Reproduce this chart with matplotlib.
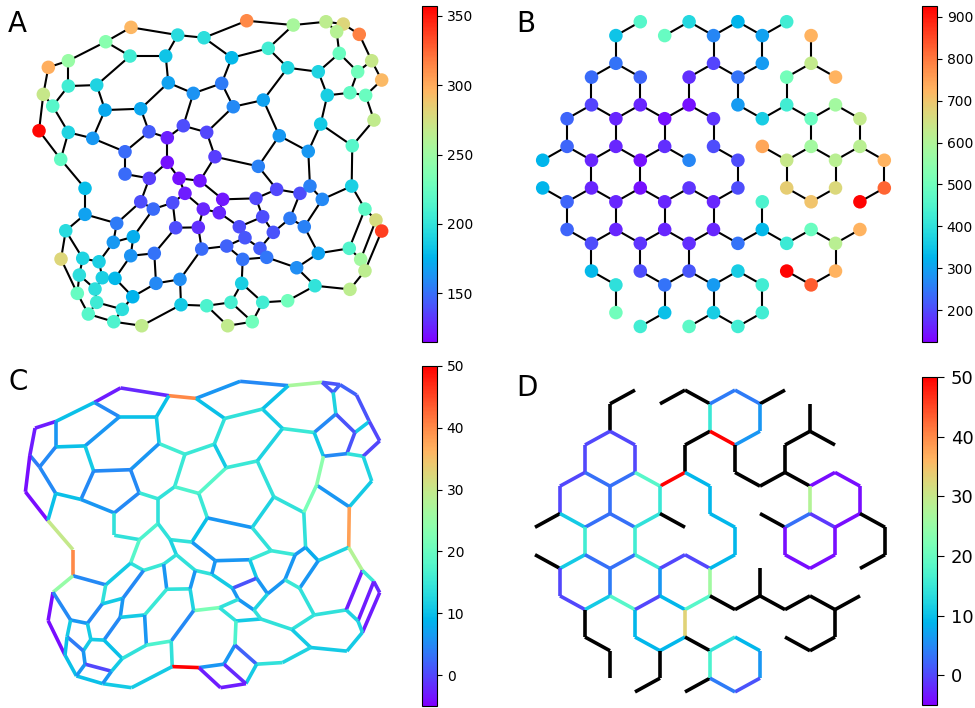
import numpy as np
import matplotlib
matplotlib.use("Agg")
import matplotlib.pyplot as plt
from matplotlib.collections import LineCollection
from matplotlib.colors import Normalize

# ---- panels A and C: irregular network (node layout, node values, edge values) ----
node_x = [131.0, 177.7, 204.0, 105.7, 130.0, 165.7, 68.3, 48.3, 68.3, 96.7,
          168.3, 193.3, 43.3, 52.7, 105.0, 140.7, 39.0, 68.3, 92.7, 149.0,
          167.3, 183.3, 206.7, 125.0, 60.7, 167.3, 215.0, 246.7, 293.3, 326.0,
          343.3, 336.7, 359.3, 231.7, 268.3, 339.3, 371.7, 287.7, 318.3, 357.7,
          381.7, 221.7, 327.3, 350.0, 365.7, 263.3, 233.3, 374.0, 320.7, 279.3,
          258.3, 308.3, 352.3, 125.0, 149.3, 179.0, 200.0, 185.0, 85.0, 140.7,
          172.7, 153.3, 203.3, 85.0, 116.7, 175.7, 198.3, 65.7, 133.3, 113.3,
          201.7, 61.0, 82.7, 99.0, 130.7, 154.3, 79.3, 102.3, 115.0, 156.0,
          180.0, 77.3, 95.0, 132.7, 96.7, 122.3, 181.0, 206.7, 88.3, 113.7,
          141.7, 222.7, 256.0, 276.7, 300.0, 310.0, 322.3, 351.7, 219.3, 262.7,
          290.0, 304.3, 239.3, 273.3, 245.0, 365.0, 376.0, 381.7, 226.7, 260.0,
          242.7, 266.7, 296.7, 318.3, 349.3, 360.7, 365.0, 350.0, 315.0, 241.7,
          287.7, 262.7, 231.0, 252.3, 227.7]
node_y = [27.3, 35.0, 37.7, 41.7, 56.0, 56.0, 60.7, 67.3, 86.0, 85.0,
          82.7, 93.3, 94.3, 106.0, 110.0, 108.7, 130.7, 132.3, 138.3, 131.7,
          137.7, 125.7, 132.3, 151.7, 159.3, 162.3, 156.7, 20.7, 25.0, 21.7,
          24.0, 31.7, 34.3, 57.7, 48.3, 53.3, 60.7, 67.7, 71.7, 71.7,
          80.0, 83.3, 95.3, 92.7, 95.3, 100.0, 106.7, 120.0, 124.0, 135.7,
          166.3, 151.3, 145.7, 174.0, 178.3, 178.3, 180.7, 193.3, 188.3, 201.7,
          202.7, 209.0, 209.0, 214.3, 223.3, 227.7, 227.3, 230.7, 236.7, 242.3,
          249.0, 259.0, 258.3, 261.7, 255.7, 253.3, 275.0, 277.7, 278.3, 283.3,
          279.3, 293.3, 289.0, 296.7, 302.3, 309.3, 304.7, 305.7, 314.0, 321.7,
          325.7, 199.3, 198.3, 189.3, 193.3, 186.0, 199.3, 186.0, 212.7, 216.7,
          218.3, 226.7, 226.7, 232.3, 237.7, 209.0, 220.0, 231.0, 246.0, 248.3,
          259.3, 257.3, 267.7, 253.3, 248.3, 259.3, 270.7, 289.3, 285.7, 283.3,
          300.7, 302.3, 302.3, 321.7, 325.7]
node_val = [295, 195, 197, 240, 207, 183, 248, 299, 207, 190,
            168, 163, 270, 217, 171, 170, 355, 190, 165, 144,
            125, 139, 137, 149, 222, 120, 134, 313, 255, 265,
            280, 262, 316, 178, 207, 226, 270, 192, 190, 229,
            294, 154, 188, 222, 226, 168, 159, 267, 185, 165,
            156, 165, 217, 149, 134, 120, 122, 124, 180, 139,
            139, 149, 127, 168, 154, 139, 130, 195, 173, 165,
            149, 280, 190, 188, 163, 151, 197, 188, 178, 159,
            161, 224, 197, 175, 205, 197, 185, 212, 217, 212,
            267, 122, 137, 137, 139, 156, 159, 188, 127, 139,
            154, 156, 139, 141, 142, 219, 277, 338, 146, 144,
            151, 152, 161, 168, 214, 253, 265, 265, 200, 188,
            229, 207, 209, 229, 267]
# (node i, node j, edge value shown in panel C)
edges = [(0, 1, -2), (0, 3, -3), (1, 2, 40), (1, 5, 10), (2, 27, 6), (2, 33, 10),
         (3, 4, 5), (3, 6, 10), (4, 5, 10), (4, 9, 6), (5, 10, 11), (6, 7, -3),
         (6, 8, 6), (7, 12, -3), (8, 9, 10), (8, 13, 5), (9, 14, 11), (10, 11, 16),
         (10, 15, 6), (11, 41, 15), (11, 21, 15), (12, 13, 4), (12, 16, -4),
         (13, 17, 5), (14, 15, 5), (14, 18, 5), (15, 19, 5), (16, 24, -4),
         (17, 18, 10), (17, 24, 10), (18, 23, 6), (19, 20, 15), (19, 23, 5),
         (20, 21, 14), (20, 25, 14), (21, 22, 17), (22, 26, 15), (22, 46, 18),
         (23, 53, 14), (24, 58, 30),
         (27, 28, 5), (28, 29, 27), (28, 34, 10), (29, 30, 1), (29, 31, 1),
         (30, 31, 2), (30, 32, 2), (31, 35, 12), (32, 36, 1), (36, 39, 11),
         (36, 40, 0), (35, 39, 1), (39, 43, 1), (35, 38, 5), (37, 38, 15),
         (38, 42, 11), (42, 43, 5), (43, 44, 14), (40, 44, 0), (44, 47, 12),
         (47, 52, 11), (48, 52, 6), (42, 48, 24), (52, 97, 38), (34, 37, 11),
         (33, 34, 14), (33, 41, 14), (41, 46, 11), (45, 46, 15), (37, 45, 12),
         (45, 49, 14), (26, 50, 6), (49, 50, 12), (49, 51, 14), (48, 51, 22),
         (51, 95, 14), (50, 93, 14), (26, 56, 10),
         (56, 91, 6), (91, 92, 6), (92, 93, 15), (92, 99, 11), (93, 94, 15),
         (94, 95, 6), (95, 96, 8), (96, 97, 12), (97, 105, 28), (96, 101, 6),
         (94, 100, 6), (100, 103, 6), (100, 101, 15), (101, 113, 14),
         (99, 102, 1), (99, 103, 6), (98, 102, 11), (62, 98, 14), (91, 98, 6),
         (102, 104, 6), (104, 109, 6), (103, 109, 12), (104, 108, 14),
         (70, 108, 22), (108, 110, 14), (110, 111, 11), (109, 111, 14),
         (111, 112, 14), (112, 113, 14), (112, 118, 11), (113, 114, 14),
         (105, 114, -3), (105, 106, 15), (106, 107, -2), (106, 115, -3),
         (107, 116, -3), (114, 115, 12), (115, 116, 12), (116, 117, 11),
         (117, 118, 11), (118, 120, 12), (110, 119, 17), (119, 122, 6),
         (119, 121, 2), (120, 121, 14), (121, 123, 11), (122, 123, -2),
         (87, 122, 6), (87, 124, -3), (123, 124, -3),
         (53, 54, 14), (25, 54, 17), (54, 59, 18), (25, 55, 14), (55, 56, 14),
         (55, 57, 12), (57, 60, 14), (57, 62, 14), (59, 61, 14), (59, 64, 11),
         (60, 61, 15), (60, 65, 6), (61, 68, 5), (58, 63, 40), (63, 64, 5),
         (63, 67, 25), (64, 69, 14), (68, 69, 11), (69, 73, 5), (68, 74, 6),
         (74, 75, 11), (74, 78, 5), (65, 75, 15), (75, 79, 6), (65, 66, 14),
         (62, 66, 6), (66, 70, 12), (70, 80, 5), (79, 80, 17), (80, 86, 14),
         (86, 87, 50), (86, 90, 11), (89, 90, 11), (88, 89, 10), (81, 88, 10),
         (71, 81, -4), (67, 71, -4), (67, 72, 5), (72, 73, 6), (72, 76, 11),
         (73, 77, 11), (77, 82, 11), (77, 78, 11), (76, 82, 4), (76, 81, 10),
         (82, 84, 6), (84, 85, 0), (84, 88, 6), (85, 89, 6), (83, 85, 11),
         (78, 83, 10), (79, 83, 14)]

# ---- panels B and D: honeycomb fragment (column, half-row, node value) ----
hex_col = [4, 6, 8, 10,
           3, 5, 7, 9, 11,
           3, 7, 9, 11,
           2, 4, 6, 8, 10, 12,
           2, 4, 6, 8, 10, 12,
           1, 3, 5, 7, 9, 11, 13,
           1, 3, 5, 7, 9, 11, 13,
           0, 2, 4, 6, 8, 10, 12, 14,
           0, 2, 4, 6, 8, 10, 12, 14,
           1, 3, 5, 7, 9, 11, 13,
           1, 3, 5, 7, 9, 11, 13,
           2, 4, 6, 8, 10, 12,
           2, 4, 6, 8, 10, 12,
           3, 5, 7, 9, 11,
           3, 5, 7, 9,
           4, 6, 8]
hex_row = [0] * 4 + [1] * 5 + [3] * 4 + [4] * 6 + [6] * 6 + [7] * 7 + [9] * 7 + \
          [10] * 8 + [12] * 8 + [13] * 7 + [15] * 7 + [16] * 6 + [18] * 6 + \
          [19] * 5 + [21] * 4 + [22] * 3
hex_val = [461, 381, 325, 429,
           349, 485, 268, 300, 726,
           244, 196, 292, 629,
           236, 228, 172, 244, 509, 726,
           196, 164, 140, 292, 429, 581,
           228, 164, 140, 180, 365, 493, 629,
           228, 164, 172, 204, 742, 581, 613,
           325, 164, 140, 268, 204, 637, 613, 726,
           325, 164, 140, 180, 204, 685, 669, 822,
           228, 164, 164, 164, 445, 701, 920,
           228, 164, 164, 164, 333, 493, 726,
           204, 180, 172, 244, 421, 613,
           333, 204, 212, 365, 920, 726,
           397, 244, 292, 429, 830,
           501, 341, 365, 429,
           429, 469, 429]
nan = float('nan')
# (col1, row1, col2, row2, edge value in panel D; nan = no value, drawn black)
hex_edges = [(3, 1, 4, 0, nan), (3, 1, 3, 3, nan), (5, 1, 6, 0, nan), (6, 0, 7, 1, nan),
             (7, 1, 7, 3, 15), (7, 3, 6, 4, nan), (7, 3, 8, 4, 50), (6, 4, 6, 6, nan),
             (6, 6, 5, 7, 50), (6, 6, 7, 7, 9), (7, 7, 7, 9, 9), (3, 3, 2, 4, 0),
             (3, 3, 4, 4, 0), (2, 4, 2, 6, 0), (4, 4, 4, 6, 0), (2, 6, 1, 7, 0),
             (2, 6, 3, 7, 3), (4, 6, 3, 7, 3), (4, 6, 5, 7, 18), (1, 7, 1, 9, 0),
             (3, 7, 3, 9, 3), (5, 7, 5, 9, 15), (1, 9, 0, 10, nan), (1, 9, 2, 10, 11),
             (3, 9, 2, 10, 3), (3, 9, 4, 10, 3), (5, 9, 4, 10, 14), (5, 9, 6, 10, nan),
             (2, 10, 2, 12, 16), (4, 10, 4, 12, 16), (0, 12, 1, 13, nan),
             (2, 12, 1, 13, 11), (2, 12, 3, 13, 3), (4, 12, 3, 13, 3),
             (4, 12, 5, 13, 16), (5, 13, 6, 12, 0), (6, 12, 7, 13, 0),
             (7, 13, 7, 15, 26), (1, 13, 1, 15, 0), (3, 13, 3, 15, 4),
             (5, 13, 5, 15, 6), (1, 15, 2, 16, 0), (3, 15, 2, 16, 11),
             (3, 15, 4, 16, 18), (5, 15, 4, 16, 0), (5, 15, 6, 16, 9),
             (7, 15, 6, 16, 18), (6, 16, 6, 18, 33), (2, 16, 2, 18, nan),
             (4, 16, 4, 18, 9), (2, 18, 3, 19, nan), (3, 19, 3, 21, nan),
             (4, 18, 5, 19, 9), (6, 18, 5, 19, 9), (6, 18, 7, 19, nan),
             (5, 19, 5, 21, nan), (5, 21, 4, 22, nan), (7, 21, 6, 22, nan),
             (7, 19, 7, 21, 17), (7, 1, 8, 0, 4), (8, 0, 9, 1, 4), (9, 1, 10, 0, nan),
             (9, 1, 9, 3, 6), (9, 3, 8, 4, 6), (8, 4, 8, 6, nan), (8, 6, 9, 7, nan),
             (9, 7, 10, 6, nan), (10, 6, 10, 4, nan), (10, 4, 11, 3, nan),
             (11, 3, 11, 1, nan), (11, 3, 12, 4, nan), (10, 6, 11, 7, nan),
             (11, 7, 12, 6, -4), (12, 6, 13, 7, -4), (11, 7, 11, 9, 28),
             (13, 7, 13, 9, -4), (9, 9, 10, 10, nan), (10, 10, 11, 9, 3),
             (11, 9, 12, 10, -1), (12, 10, 13, 9, -4), (13, 9, 14, 10, nan),
             (14, 10, 14, 12, nan), (14, 12, 13, 13, nan), (10, 10, 10, 12, -4),
             (12, 10, 12, 12, -4), (10, 12, 11, 13, -4), (11, 13, 12, 12, -4),
             (7, 9, 8, 10, 9), (8, 10, 8, 12, 9), (8, 12, 7, 13, 9),
             (7, 15, 8, 16, nan), (8, 16, 9, 15, nan), (9, 15, 9, 13, nan),
             (9, 15, 10, 16, nan), (10, 16, 11, 15, nan), (11, 15, 12, 16, nan),
             (12, 16, 13, 15, nan), (12, 16, 12, 18, nan), (12, 18, 11, 19, nan),
             (11, 19, 10, 18, nan), (7, 19, 8, 18, 14), (8, 18, 9, 19, 9),
             (9, 19, 9, 21, 6), (9, 21, 8, 22, 1), (8, 22, 7, 21, 4)]

W, H = 975, 708


def rect(l, t, r, b):
    # pixel box -> figure fraction
    return [l / W, 1 - b / H, (r - l) / W, (b - t) / H]


def hexpos(c, r):
    return c * np.sqrt(3) / 2, r / 2


fig = plt.figure(figsize=(W / 100, H / 100), dpi=100)
cmap = plt.get_cmap('rainbow').with_extremes(bad='black')
edge_norm = Normalize(-5, 50)

graph_segs = [[(node_x[i], node_y[i]), (node_x[j], node_y[j])] for i, j, _ in edges]
graph_vals = [v for _, _, v in edges]
hx, hy = zip(*[hexpos(c, r) for c, r in zip(hex_col, hex_row)])
hex_segs = [[hexpos(c1, r1), hexpos(c2, r2)] for c1, r1, c2, r2, _ in hex_edges]
hex_evals = np.array([e[4] for e in hex_edges], dtype=float)

# A
ax = fig.add_axes(rect(21.9, 5.5, 398.8, 341))
ax.add_collection(LineCollection(graph_segs, colors='black', linewidths=1.5, zorder=1))
sc = ax.scatter(node_x, node_y, c=node_val, cmap=cmap, vmin=115, vmax=357,
                s=95, linewidths=0, zorder=2)
ax.invert_yaxis()
ax.axis('off')
cb = fig.colorbar(sc, cax=fig.add_axes(rect(422, 6, 437, 342)),
                  ticks=[150, 200, 250, 300, 350])
cb.ax.tick_params(labelsize=10)
fig.text(8 / W, 1 - 32 / H, 'A', fontsize=20)

# B
ax = fig.add_axes(rect(525.6, 6.5, 901.4, 341.7))
ax.add_collection(LineCollection(hex_segs, colors='black', linewidths=1.5, zorder=1))
sc = ax.scatter(hx, hy, c=hex_val, cmap=cmap, vmin=124, vmax=926,
                s=95, linewidths=0, zorder=2)
ax.invert_yaxis()
ax.axis('off')
cb = fig.colorbar(sc, cax=fig.add_axes(rect(922, 6, 937, 342)),
                  ticks=range(200, 901, 100))
cb.ax.tick_params(labelsize=10)
fig.text(516 / W, 1 - 32 / H, 'B', fontsize=20)

# C
ax = fig.add_axes(rect(7.7, 366, 397.4, 703))
lc = LineCollection(graph_segs, cmap=cmap, norm=edge_norm, linewidths=2.6)
lc.set_array(np.array(graph_vals, dtype=float))
ax.add_collection(lc)
ax.autoscale_view()
ax.invert_yaxis()
ax.axis('off')
cb = fig.colorbar(lc, cax=fig.add_axes(rect(422, 366, 437, 706)),
                  ticks=range(0, 51, 10))
cb.ax.tick_params(labelsize=10)
fig.text(8 / W, 1 - 390 / H, 'C', fontsize=20)

# D
ax = fig.add_axes(rect(517.5, 375, 902.5, 707))
lc = LineCollection(hex_segs, cmap=cmap, norm=edge_norm, linewidths=2.6)
lc.set_array(hex_evals)
ax.add_collection(lc)
ax.autoscale_view()
ax.invert_yaxis()
ax.axis('off')
cb = fig.colorbar(lc, cax=fig.add_axes(rect(922, 377, 937, 705)),
                  ticks=range(0, 51, 10))
cb.ax.tick_params(labelsize=13, length=5, pad=5)
fig.text(516 / W, 1 - 396 / H, 'D', fontsize=20)

fig.savefig('out.png', dpi=100)
